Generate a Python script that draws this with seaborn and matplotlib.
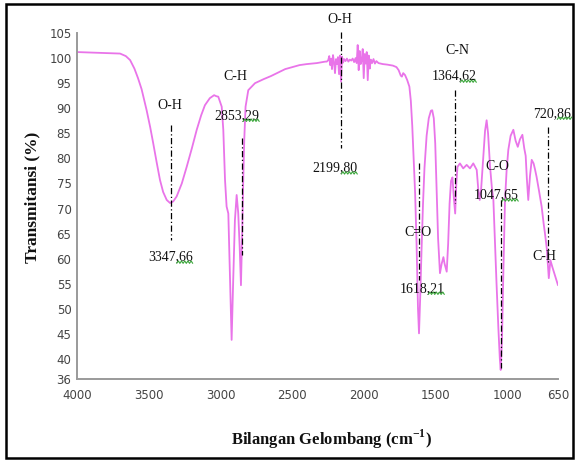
import matplotlib
matplotlib.use("Agg")
import matplotlib.pyplot as plt
import seaborn as sns
import pandas as pd
from matplotlib.patches import Rectangle
from matplotlib.lines import Line2D
from matplotlib.transforms import IdentityTransform

# FTIR spectrum (wavenumber cm-1, transmittance %)
wavenumber = [
    4000, 3900, 3800, 3740, 3700, 3660, 3630, 3600, 3575, 3550, 3530, 3515,
    3490, 3469, 3445, 3422, 3400, 3375, 3352, 3330, 3306, 3270, 3236, 3200,
    3166, 3135, 3109, 3075, 3045, 3030, 3016, 2992, 2981, 2969, 2958, 2946,
    2934, 2923, 2912, 2900, 2888, 2877, 2867, 2858, 2849, 2842, 2835, 2826,
    2807, 2760, 2700, 2650, 2600, 2550, 2500, 2450, 2400, 2330, 2270,
    2260, 2250, 2243, 2237, 2230, 2224, 2217, 2210, 2203, 2196, 2189, 2182,
    2175, 2168, 2161, 2154, 2147, 2140, 2130, 2120, 2110, 2100, 2090, 2080,
    2070, 2060, 2052, 2045, 2038, 2031, 2024, 2017, 2010, 2003, 1996, 1989,
    1982, 1975, 1968, 1961, 1954, 1945, 1935, 1925, 1915, 1900, 1870, 1840,
    1800, 1775, 1760, 1745, 1737, 1728, 1715, 1700, 1685, 1675, 1665, 1655,
    1645, 1635, 1625, 1618, 1610, 1600, 1590, 1580, 1565, 1550, 1535, 1526,
    1515, 1505, 1495, 1485, 1472, 1460, 1448, 1440, 1425, 1415, 1405, 1395,
    1385, 1375, 1366, 1358, 1350, 1333, 1310, 1286, 1263, 1240, 1216, 1205,
    1195, 1185, 1170, 1158, 1147, 1137, 1123, 1110, 1100, 1090, 1078, 1065,
    1055, 1049, 1040, 1030, 1019, 1008, 996, 980, 961, 945, 930, 915, 898,
    885, 875, 867, 857, 845, 833, 820, 810, 799, 782, 764, 750, 741, 728,
    718, 714, 708, 703, 690, 675, 662, 650,
]
transmittance = [
    101.2, 101.1, 101.0, 100.95, 100.9, 100.4, 99.6, 97.9, 96.0, 93.8, 91.4, 89.6,
    86.2, 83.0, 79.2, 75.7, 73.3, 71.7, 71.1, 71.4, 72.4, 75.0, 78.3, 82.0,
    85.7, 88.6, 90.6, 92.0, 92.6, 92.4, 92.3, 90.3, 85.7, 75.7, 70.4, 69.0,
    55.7, 43.8, 55.7, 67.7, 72.7, 69.1, 62.4, 54.7, 65.7, 75.7, 83.7, 90.3,
    93.6, 95.0, 95.8, 96.4, 97.1, 97.8, 98.2, 98.6, 98.8, 99.0, 99.3,
    99.3, 99.6, 100.4, 98.6, 99.9, 97.8, 100.6, 99.2, 97.0, 99.8, 98.8, 100.2,
    96.8, 100.5, 95.3, 100.3, 99.1, 99.8, 99.4, 99.9, 99.3, 99.7, 99.5, 99.9,
    99.2, 100.0, 99.0, 102.6, 97.6, 101.4, 98.8, 99.6, 101.8, 96.0, 100.8, 98.9,
    101.2, 95.6, 100.5, 97.9, 99.7, 99.0, 99.8, 98.9, 99.4, 99.0, 98.8, 98.7,
    98.5, 98.2, 97.6, 96.5, 96.3, 97.0, 96.6, 95.6, 94.3, 91.5, 86.5, 80.0,
    73.0, 63.0, 50.0, 45.1, 52.0, 62.0, 71.0, 78.0, 84.5, 88.0, 89.5, 89.6,
    88.0, 83.0, 73.7, 64.0, 57.1, 59.0, 60.3, 59.0, 57.4, 63.0, 71.0, 75.5,
    76.2, 72.0, 69.0, 75.0, 78.3, 79.0, 78.0, 78.7, 78.0, 79.0, 77.7, 73.7,
    71.7, 74.0, 80.5, 85.5, 87.6, 85.0, 78.3, 74.0, 71.7, 64.0, 55.0, 46.0,
    40.0, 37.8, 44.0, 58.0, 71.7, 77.5, 81.7, 84.5, 85.7, 83.5, 82.3, 83.8, 84.7,
    82.0, 80.5, 76.0, 71.7, 76.5, 79.7, 79.0, 77.8, 76.3, 73.5, 70.4, 67.0, 65.1, 62.0,
    58.0, 56.1, 58.0, 59.7, 58.4, 57.0, 55.8, 54.7,
]

# peak assignments
bonds = ["O-H", "C-H", "O-H", "C-N", "C=O", "C-O", "C-H"]
peak_labels = ["3347,66", "2853,29", "2199,80", "1364,62", "1618,21", "1047,65", "720,86"]

# label layout: (line x, line y0, line y1, bond x, bond y, value x, value y)
label_layout = [
    (3347.66, 86.7, 63.7, 3352, 90.6, 3349, 60.3),
    (2853.29, 84.1, 60.7, 2900, 96.4, 2886, 88.6),
    (2163.0, 105.2, 82.1, 2172, 107.6, 2203, 78.1),
    (1364.62, 93.6, 71.1, 1353, 101.6, 1374, 96.4),
    (1618.21, 79.1, 55.7, 1625, 65.3, 1597, 54.1),
    (1047.65, 71.7, 38.2, 1075, 78.3, 1082, 72.7),
    (720.86, 86.3, 59.3, 747, 60.5, 692, 89.0),
]

xticks = [4000, 3500, 3000, 2500, 2000, 1500, 1000, 650]
yticks = [36, 40, 45, 50, 55, 60, 65, 70, 75, 80, 85, 90, 95, 100, 105]

sns.set_theme(style="white")
plt.rcParams['font.family'] = ['Liberation Serif', 'DejaVu Serif']
plt.rcParams['mathtext.fontset'] = 'custom'
plt.rcParams['mathtext.rm'] = 'Liberation Serif'
plt.rcParams['mathtext.bf'] = 'Liberation Serif:bold'

df = pd.DataFrame({"wn": wavenumber, "T": transmittance})

fig = plt.figure(figsize=(5.81, 4.61), dpi=100)
ax = fig.add_axes([0.1325, 0.1779, 0.8279, 0.7505])

sns.lineplot(data=df, x="wn", y="T", sort=False, estimator=None,
             color="#e974e9", lw=1.3, ax=ax)

value_texts = []
for (lx, y0, y1, bx, by, vx, vy), bond, lab in zip(label_layout, bonds, peak_labels):
    ax.plot([lx, lx], [y0, y1], color="black", lw=0.9,
            linestyle=(0, (5, 2, 1, 2)), clip_on=False)
    ax.text(bx, by, bond, ha="center", va="center", fontsize=10, color="#111111")
    value_texts.append(ax.text(vx, vy, lab, ha="center", va="center",
                               fontsize=10, color="#111111"))

ax.set_xlim(4000, 650)
ax.set_ylim(36, 105)
ax.set_xticks(xticks)
ax.set_yticks(yticks)

tick_font = ['Liberation Sans Narrow', 'DejaVu Sans']
for t in ax.get_xticklabels() + ax.get_yticklabels():
    t.set_family(tick_font)
    t.set_fontsize(8.5)
    t.set_color("#444444")

for side in ["top", "right"]:
    ax.spines[side].set_visible(False)
for side in ["left", "bottom"]:
    ax.spines[side].set_color("#9a9a9a")
    ax.spines[side].set_linewidth(1.4)
ax.tick_params(axis="both", direction="out", length=3, width=1, color="#9a9a9a")
ax.tick_params(axis="y", pad=1)
ax.tick_params(axis="x", pad=4)

ax.set_xlabel(r"Bilangan Gelombang (cm$^{\mathbf{-1}}$)", fontsize=12,
              fontweight="bold", color="#111111")
ax.set_ylabel("Transmitansi (%)", fontsize=12.5, fontweight="bold", color="#111111")
ax.xaxis.set_label_coords(0.53, -0.142)
ax.yaxis.set_label_coords(-0.076, 0.526)

# green spell-check squiggles under the decimals of the peak labels
fig.canvas.draw()
renderer = fig.canvas.get_renderer()
for t in value_texts:
    bb = t.get_window_extent(renderer)
    x0 = bb.x1 - bb.width * 0.36
    xs, ys = [], []
    k = 0
    x = x0
    while x <= bb.x1 + 1:
        xs.append(x)
        ys.append(bb.y0 + 1.5 + (1.2 if k % 2 else -1.2))
        x += 1.6
        k += 1
    fig.add_artist(Line2D(xs, ys, transform=IdentityTransform(),
                          color="#3aa63a", lw=0.8))

# frame around the whole picture
fig.patches.append(Rectangle((0.011, 0.007), 0.976, 0.984, transform=fig.transFigure,
                             fill=False, edgecolor="black", lw=1.8))

fig.savefig("out.png", dpi=100)
